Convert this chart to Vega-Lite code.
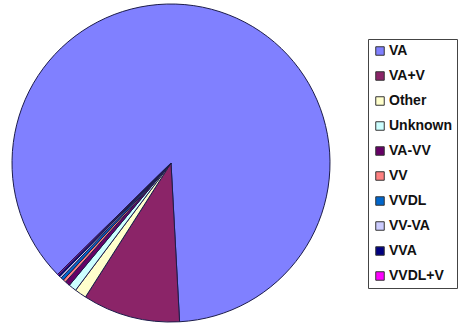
{
  "$schema": "https://vega.github.io/schema/vega-lite/v6.json",
  "width": 342,
  "height": 326,
  "padding": 0,
  "background": "white",
  "view": {"stroke": null},
  "data": {
    "values": [
      {"category": "VA", "value": 86.5, "ord": 1},
      {"category": "VA+V", "value": 9.9, "ord": 2},
      {"category": "Other", "value": 1.2, "ord": 3},
      {"category": "Unknown", "value": 0.8, "ord": 4},
      {"category": "VA-VV", "value": 0.5, "ord": 5},
      {"category": "VV", "value": 0.3, "ord": 6},
      {"category": "VVDL", "value": 0.3, "ord": 7},
      {"category": "VV-VA", "value": 0.2, "ord": 8},
      {"category": "VVA", "value": 0.2, "ord": 9},
      {"category": "VVDL+V", "value": 0.1, "ord": 10}
    ]
  },
  "mark": {"type": "arc", "radius": 159, "stroke": "#1c1c4a", "strokeWidth": 1},
  "encoding": {
    "theta": {"field": "value", "type": "quantitative", "stack": true, "scale": {"range": [3.936, 10.219]}},
    "order": {"field": "ord", "type": "quantitative"},
    "color": {
      "field": "category",
      "type": "nominal",
      "sort": ["VA", "VA+V", "Other", "Unknown", "VA-VV", "VV", "VVDL", "VV-VA", "VVA", "VVDL+V"],
      "scale": {
        "domain": ["VA", "VA+V", "Other", "Unknown", "VA-VV", "VV", "VVDL", "VV-VA", "VVA", "VVDL+V"],
        "range": ["#8080FF", "#8B2468", "#FFFFCC", "#CCFFFF", "#660066", "#FF8080", "#0066CC", "#CCCCFF", "#000080", "#FF00FF"]
      },
      "legend": {
        "title": null,
        "orient": "none",
        "legendX": 368,
        "legendY": 39,
        "symbolType": "square",
        "symbolSize": 72,
        "symbolStrokeColor": "#333333",
        "symbolStrokeWidth": 1,
        "labelFont": "Liberation Sans",
        "labelFontWeight": "bold",
        "labelFontSize": 14,
        "labelColor": "#111111",
        "labelOffset": 2,
        "rowPadding": 11,
        "padding": 5,
        "strokeColor": "#444444",
        "fillColor": "white"
      }
    }
  }
}
